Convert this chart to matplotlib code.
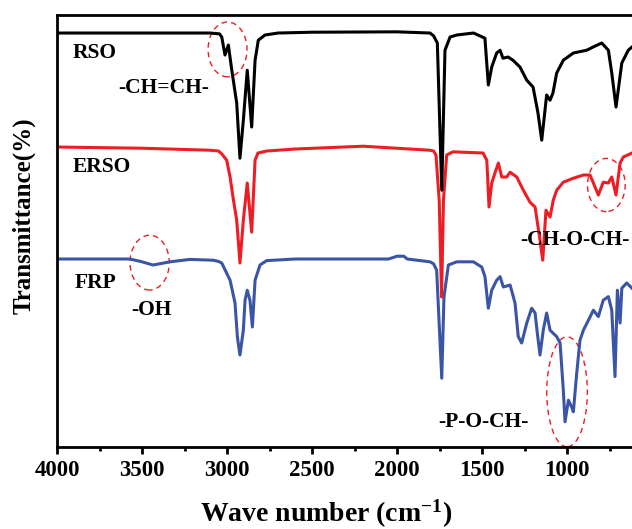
import matplotlib
matplotlib.use('Agg')
import matplotlib.pyplot as plt
from matplotlib.patches import Ellipse

plt.rcParams['font.family'] = 'Liberation Serif'
plt.rcParams['font.weight'] = 'bold'
plt.rcParams['mathtext.fontset'] = 'custom'
plt.rcParams['mathtext.rm'] = 'Liberation Serif:bold'
plt.rcParams['mathtext.bf'] = 'Liberation Serif:bold'
plt.rcParams['mathtext.default'] = 'bf'

# FTIR spectra (wavenumber cm-1, offset transmittance)
rso_wn = [4000, 3500, 3100, 3045, 3031, 3012, 2992, 2972, 2943, 2924, 2904, 2881, 2855, 2835,
          2816, 2777, 2700, 2500, 2000, 1806, 1785, 1763, 1737, 1718, 1688, 1649, 1550, 1483,
          1463, 1443, 1414, 1394, 1377, 1347, 1318, 1277, 1237, 1200, 1171, 1149, 1120,
          1100, 1083, 1061, 1022, 963, 884, 847, 796, 757, 737, 712, 678, 640, 618]
rso_t = [103.5, 103.5, 103.5, 103.3, 102.5, 98.0, 100.5, 94.2, 86.0, 72.2, 81.7, 94.2, 80.0, 96.7,
         101.7, 103.0, 103.5, 103.7, 103.8, 103.5, 102.8, 101.0, 64.2, 99.2, 102.5, 103.0, 103.5, 102.2,
         90.5, 95.0, 98.5, 99.2, 97.2, 97.5, 96.7, 95.0, 91.7, 90.0, 83.5, 76.7, 88.0,
         86.7, 88.5, 93.5, 96.7, 98.5, 99.2, 100.0, 101.0, 99.2, 93.5, 85.0, 96.0, 99.2, 100.0]

erso_wn = [4000, 3500, 3100, 3050, 3031, 3002, 2982, 2965, 2943, 2924, 2904, 2881, 2855, 2835,
           2818, 2767, 2600, 2200, 1806, 1785, 1771, 1752, 1738, 1727, 1708, 1671, 1494, 1472,
           1459, 1443, 1424, 1404, 1384, 1355, 1335, 1296, 1257, 1218, 1188, 1159, 1143,
           1124, 1100, 1081, 1061, 1022, 963, 904, 865, 845, 816, 787, 757, 737, 712, 688,
           669, 618]
erso_t = [75.0, 74.7, 74.2, 74.0, 73.3, 71.7, 67.5, 62.5, 56.7, 46.0, 56.7, 66.0, 53.7, 71.7,
          73.5, 74.0, 74.5, 75.2, 74.2, 74.0, 73.0, 61.7, 37.5, 61.7, 73.0, 73.8, 73.5, 71.7,
          60.0, 66.0, 68.5, 71.0, 67.5, 67.5, 68.7, 67.5, 64.2, 61.2, 60.0, 51.7, 46.7,
          59.2, 57.5, 61.7, 64.2, 66.2, 67.2, 68.0, 68.0, 66.0, 63.0, 66.2, 66.0, 67.5, 63.0, 71.0,
          72.5, 73.5]

frp_wn = [4000, 3571, 3500, 3435, 3335, 3218, 3082, 3050, 3031, 2982, 2953, 2939, 2924, 2904, 2894,
          2881, 2865, 2851, 2835, 2806, 2767, 2600, 2050, 2000, 1960, 1940, 1806, 1785, 1767,
          1737, 1724, 1698, 1649, 1551, 1502, 1483, 1463, 1443, 1414, 1394, 1375, 1335,
          1306, 1287, 1267, 1237, 1208, 1188, 1175, 1159, 1140, 1120, 1100, 1061, 1041,
          1022, 1012, 992, 973, 963, 943, 924, 904, 845, 816, 787, 757, 737, 718, 704,
          688, 678, 649, 618]
frp_t = [47.0, 47.0, 46.3, 45.5, 46.3, 46.9, 46.7, 46.4, 46.0, 41.7, 36.0, 27.5, 23.0, 29.2, 36.7,
         39.2, 36.7, 30.0, 41.7, 45.5, 46.6, 47.0, 47.0, 47.7, 47.7, 47.0, 46.3, 45.8, 44.2,
         17.2, 37.5, 45.5, 46.3, 46.3, 45.0, 42.6, 34.7, 39.2, 41.7, 42.6, 40.0, 40.5,
         36.0, 27.6, 26.0, 31.0, 34.7, 33.5, 28.5, 23.0, 29.2, 33.5, 29.2, 27.6, 26.0,
         14.2, 6.3, 11.7, 10.0, 8.8, 18.5, 26.7, 29.2, 34.2, 32.6, 36.7, 37.6, 34.2, 17.6, 39.2,
         31.0, 39.7, 41.0, 39.7]

labels = ['RSO', 'ERSO', 'FRP']
label_pos = [(3906, 98.4), (3908, 70.0), (3894, 40.9)]
groups = ['-CH=CH-', '-OH', '-CH-O-CH-', '-P-O-CH-']
group_pos = [(3641, 89.7), (3561, 34.2), (1277, 51.7), (1759, 6.3)]
# ellipse centre (wn, t), width (cm-1), height
circles = [(2997, 99.4, 229, 13.7), (3455, 46.1, 231, 13.7),
           (769, 65.5, 222, 13.3), (1000, 13.8, 239, 27.5)]

fig = plt.figure(figsize=(6.32, 5.29), dpi=100)
ax = fig.add_axes([0.0902, 0.155, 0.9098, 0.8166])

ax.plot(frp_wn, frp_t, color='#3A55A6', lw=2.2)
ax.plot(erso_wn, erso_t, color='#EE1D24', lw=2.2)
ax.plot(rso_wn, rso_t, color='black', lw=2.2)

for (x, y, w, h) in circles:
    ax.add_patch(Ellipse((x, y), w, h, fill=False, ec='#EE1D24', lw=1.0,
                         ls=(0, (4, 3))))

for txt, (x, y) in zip(labels, label_pos):
    ax.text(x, y, txt, fontsize=15.5, fontweight='bold', ha='left', va='center')
for txt, (x, y) in zip(groups, group_pos):
    ax.text(x, y, txt, fontsize=15.5, fontweight='bold', ha='left', va='center', clip_on=False)

ax.set_xlim(4000, 618)
ax.set_ylim(0, 108)
ax.set_xticks([4000, 3500, 3000, 2500, 2000, 1500, 1000])
ax.set_xticks([3750, 3250, 2750, 2250, 1750, 1250, 750], minor=True)
ax.set_yticks([])
ax.tick_params(axis='x', which='major', length=5, width=2, labelsize=16.5, pad=4)
ax.tick_params(axis='x', which='minor', length=3, width=2)
for lbl in ax.get_xticklabels():
    lbl.set_fontweight('bold')
for s in ['left', 'bottom', 'top']:
    ax.spines[s].set_linewidth(2)
ax.spines['right'].set_visible(False)

ax.set_xlabel('Wave number (cm$^{-1}$)', fontsize=20, fontweight='bold')
ax.set_ylabel('Transmittance(%)', fontsize=18, fontweight='bold')
ax.xaxis.set_label_coords(0.468, -0.118)
ax.yaxis.set_label_coords(-0.038, 0.535)

fig.savefig('out.png', dpi=100)
